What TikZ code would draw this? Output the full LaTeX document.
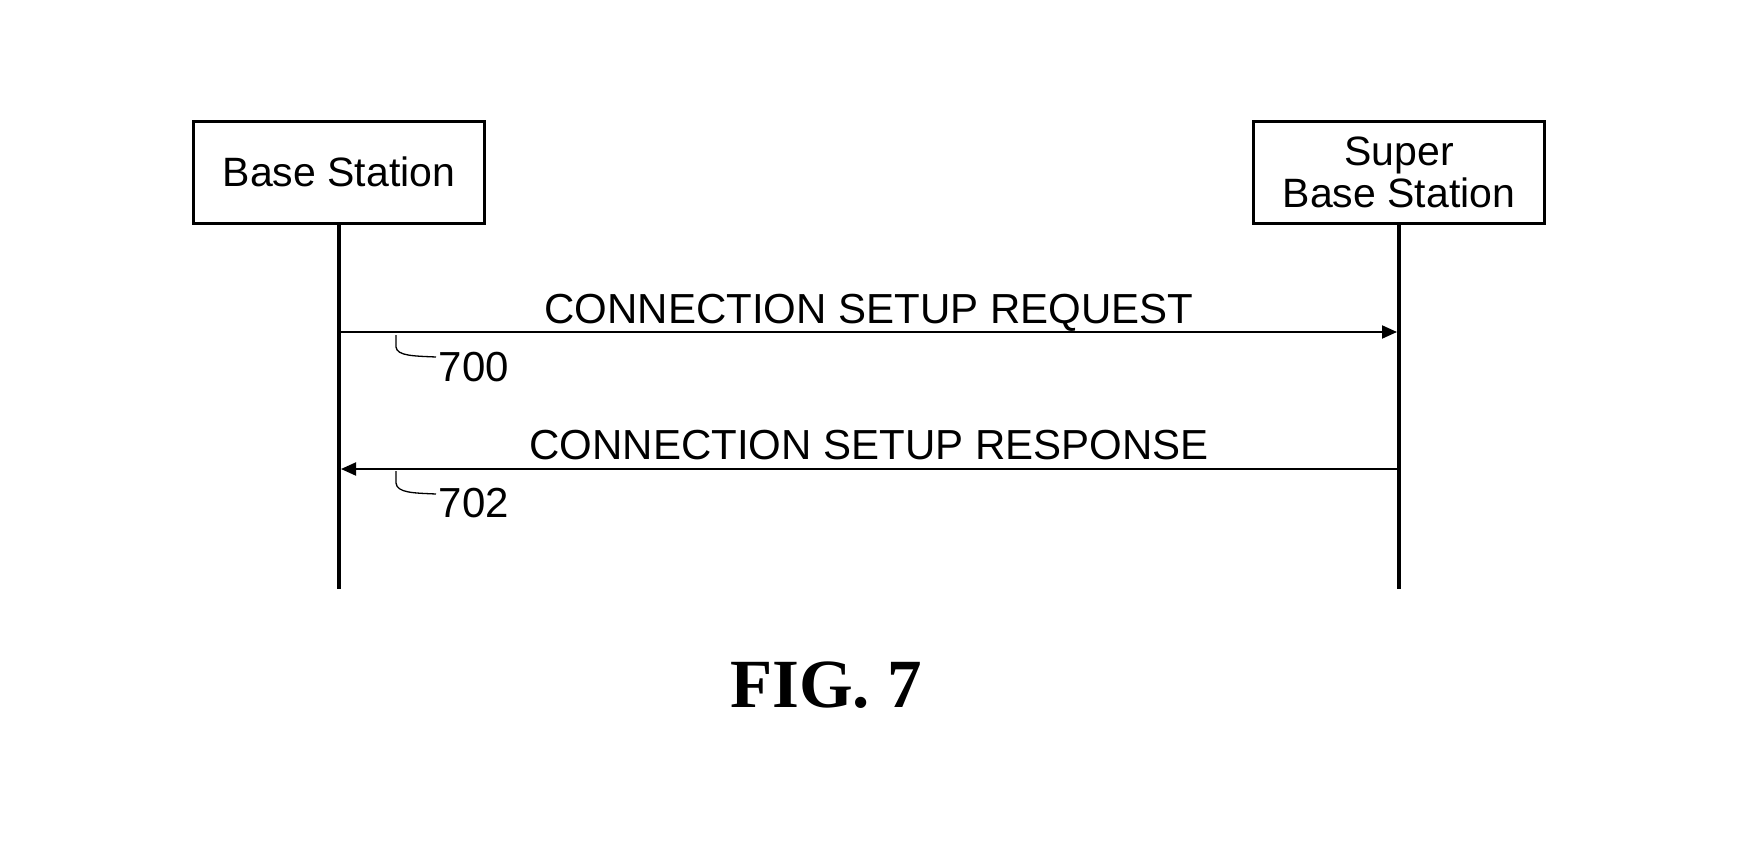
\documentclass[tikz,border=0pt]{standalone}
\usepackage{fontspec}
\setmainfont{Liberation Sans}
\newfontfamily\figfont{Liberation Serif}
\usetikzlibrary{arrows.meta}
\tikzset{
  actor/.style={draw, line width=3pt, minimum width=291pt, minimum height=102pt, inner sep=0pt,
    align=center, font=\fontsize{41}{42}\selectfont},
  lifeline/.style={line width=4pt},
  msg/.style={line width=2pt},
  tip/.style={-{Triangle[length=15pt,width=13pt]}},
  msglabel/.style={font=\fontsize{42}{48}\selectfont, anchor=base, inner sep=0pt},
  reflabel/.style={font=\fontsize{42}{48}\selectfont, anchor=base, inner sep=0pt},
  leader/.style={line width=1.3pt},
}
\begin{document}
\begin{tikzpicture}[x=1pt,y=-1pt]
\path[fill=white, use as bounding box] (0,0) rectangle (1742,841);

\node[actor] (bs) at (339,172) {Base Station};
\node[actor] (sbs) at (1399,172) {Super\\Base Station};

\coordinate (bsend) at (339,589);
\coordinate (sbsend) at (1399,589);
\draw[lifeline] (bs.south) -- (bsend);
\draw[lifeline] (sbs.south) -- (sbsend);

\coordinate (m1a) at (339,332);
\coordinate (m1b) at (1399,332);
\coordinate (m2a) at (1399,469);
\coordinate (m2b) at (339,469);

\draw[msg, tip, shorten >=2pt] (m1a) -- node[msglabel, yshift=9pt] (t1) {CONNECTION SETUP REQUEST} (m1b);
\draw[msg, tip, shorten >=2pt] (m2a) -- node[msglabel, yshift=10pt] (t2) {CONNECTION SETUP RESPONSE} (m2b);

\node[reflabel] (r700) at (474,381) {700};
\node[reflabel] (r702) at (474,517) {702};

\coordinate (l700s) at (396,335);
\coordinate (l700e) at (436,357);
\coordinate (l702s) at (396,471);
\coordinate (l702e) at (436,494);
\draw[leader] (l700s) -- ++(0,12) .. controls ++(1,9) and ++(-22,-1) .. (l700e);
\draw[leader] (l702s) -- ++(0,12) .. controls ++(1,10) and ++(-22,-1) .. (l702e);

\node[font=\figfont\bfseries\fontsize{69}{80}\selectfont, anchor=base, inner sep=0pt] (fig) at (826,707) {FIG. 7};
\end{tikzpicture}
\end{document}
